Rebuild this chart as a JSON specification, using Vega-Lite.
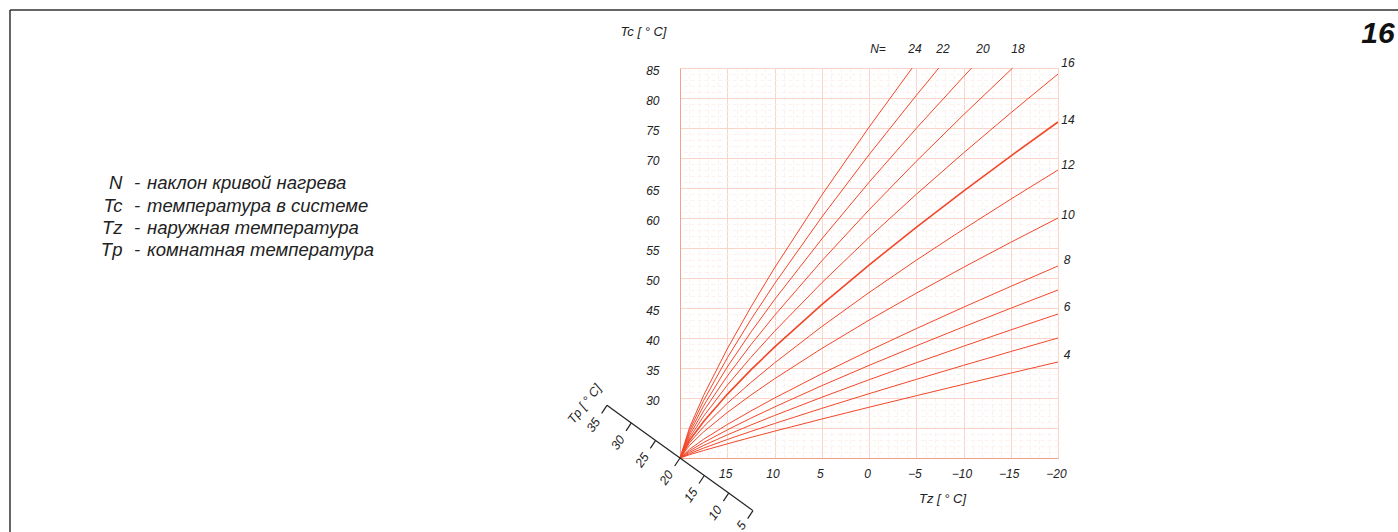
{
  "$schema": "https://vega.github.io/schema/vega-lite/v6.json",
  "width": 378,
  "height": 390,
  "autosize": "none",
  "padding": {"left": 680, "top": 68, "right": 340, "bottom": 74},
  "background": "white",
  "config": {"view": {"stroke": null}, "font": "Liberation Sans"},
  "datasets": {
    "curves": [
      {"n":24,"tz":20,"tc":20},{"n":24,"tz":19,"tc":25.02},{"n":24,"tz":17.5,"tc":30.44},{"n":24,"tz":15,"tc":38.19},{"n":24,"tz":12.5,"tc":45.16},{"n":24,"tz":10,"tc":51.67},{"n":24,"tz":5,"tc":63.8},{"n":24,"tz":0,"tc":75.13},{"n":24,"tz":-4.57,"tc":85},
      {"n":22,"tz":20,"tc":20},{"n":22,"tz":19,"tc":24.6},{"n":22,"tz":17.5,"tc":29.57},{"n":22,"tz":15,"tc":36.68},{"n":22,"tz":12.5,"tc":43.06},{"n":22,"tz":10,"tc":49.03},{"n":22,"tz":5,"tc":60.15},{"n":22,"tz":0,"tc":70.54},{"n":22,"tz":-5,"tc":80.42},{"n":22,"tz":-7.39,"tc":85},
      {"n":20,"tz":20,"tc":20},{"n":20,"tz":19,"tc":24.18},{"n":20,"tz":17.5,"tc":28.7},{"n":20,"tz":15,"tc":35.16},{"n":20,"tz":12.5,"tc":40.97},{"n":20,"tz":10,"tc":46.39},{"n":20,"tz":5,"tc":56.5},{"n":20,"tz":0,"tc":65.94},{"n":20,"tz":-5,"tc":74.93},{"n":20,"tz":-10,"tc":83.55},{"n":20,"tz":-10.86,"tc":85},
      {"n":18,"tz":20,"tc":20},{"n":18,"tz":19,"tc":23.77},{"n":18,"tz":17.5,"tc":27.83},{"n":18,"tz":15,"tc":33.64},{"n":18,"tz":12.5,"tc":38.87},{"n":18,"tz":10,"tc":43.75},{"n":18,"tz":5,"tc":52.85},{"n":18,"tz":0,"tc":61.35},{"n":18,"tz":-5,"tc":69.44},{"n":18,"tz":-10,"tc":77.2},{"n":18,"tz":-15.2,"tc":85},
      {"n":16,"tz":20,"tc":20},{"n":16,"tz":19,"tc":23.35},{"n":16,"tz":17.5,"tc":26.96},{"n":16,"tz":15,"tc":32.13},{"n":16,"tz":12.5,"tc":36.77},{"n":16,"tz":10,"tc":41.11},{"n":16,"tz":5,"tc":49.2},{"n":16,"tz":0,"tc":56.76},{"n":16,"tz":-5,"tc":63.94},{"n":16,"tz":-10,"tc":70.84},{"n":16,"tz":-15,"tc":77.52},{"n":16,"tz":-20,"tc":84},
      {"n":14,"tz":20,"tc":20},{"n":14,"tz":19,"tc":22.93},{"n":14,"tz":17.5,"tc":26.09},{"n":14,"tz":15,"tc":30.61},{"n":14,"tz":12.5,"tc":34.68},{"n":14,"tz":10,"tc":38.47},{"n":14,"tz":5,"tc":45.55},{"n":14,"tz":0,"tc":52.16},{"n":14,"tz":-5,"tc":58.45},{"n":14,"tz":-10,"tc":64.49},{"n":14,"tz":-15,"tc":70.33},{"n":14,"tz":-20,"tc":76},
      {"n":12,"tz":20,"tc":20},{"n":12,"tz":19,"tc":22.51},{"n":12,"tz":17.5,"tc":25.22},{"n":12,"tz":15,"tc":29.1},{"n":12,"tz":12.5,"tc":32.58},{"n":12,"tz":10,"tc":35.84},{"n":12,"tz":5,"tc":41.9},{"n":12,"tz":0,"tc":47.57},{"n":12,"tz":-5,"tc":52.96},{"n":12,"tz":-10,"tc":58.13},{"n":12,"tz":-15,"tc":63.14},{"n":12,"tz":-20,"tc":68},
      {"n":10,"tz":20,"tc":20},{"n":10,"tz":19,"tc":22.09},{"n":10,"tz":17.5,"tc":24.35},{"n":10,"tz":15,"tc":27.58},{"n":10,"tz":12.5,"tc":30.48},{"n":10,"tz":10,"tc":33.2},{"n":10,"tz":5,"tc":38.25},{"n":10,"tz":0,"tc":42.97},{"n":10,"tz":-5,"tc":47.46},{"n":10,"tz":-10,"tc":51.78},{"n":10,"tz":-15,"tc":55.95},{"n":10,"tz":-20,"tc":60},
      {"n":8,"tz":20,"tc":20},{"n":8,"tz":19,"tc":21.44},{"n":8,"tz":17.5,"tc":23.12},{"n":8,"tz":15,"tc":25.58},{"n":8,"tz":12.5,"tc":27.84},{"n":8,"tz":10,"tc":29.99},{"n":8,"tz":5,"tc":34.04},{"n":8,"tz":0,"tc":37.88},{"n":8,"tz":-5,"tc":41.56},{"n":8,"tz":-10,"tc":45.13},{"n":8,"tz":-15,"tc":48.6},{"n":8,"tz":-20,"tc":52},
      {"n":7,"tz":20,"tc":20},{"n":7,"tz":19,"tc":21.17},{"n":7,"tz":17.5,"tc":22.58},{"n":7,"tz":15,"tc":24.68},{"n":7,"tz":12.5,"tc":26.64},{"n":7,"tz":10,"tc":28.5},{"n":7,"tz":5,"tc":32.05},{"n":7,"tz":0,"tc":35.43},{"n":7,"tz":-5,"tc":38.69},{"n":7,"tz":-10,"tc":41.86},{"n":7,"tz":-15,"tc":44.96},{"n":7,"tz":-20,"tc":48},
      {"n":6,"tz":20,"tc":20},{"n":6,"tz":19,"tc":20.93},{"n":6,"tz":17.5,"tc":22.09},{"n":6,"tz":15,"tc":23.85},{"n":6,"tz":12.5,"tc":25.5},{"n":6,"tz":10,"tc":27.08},{"n":6,"tz":5,"tc":30.12},{"n":6,"tz":0,"tc":33.04},{"n":6,"tz":-5,"tc":35.87},{"n":6,"tz":-10,"tc":38.63},{"n":6,"tz":-15,"tc":41.34},{"n":6,"tz":-20,"tc":44},
      {"n":5,"tz":20,"tc":20},{"n":5,"tz":19,"tc":20.72},{"n":5,"tz":17.5,"tc":21.65},{"n":5,"tz":15,"tc":23.08},{"n":5,"tz":12.5,"tc":24.43},{"n":5,"tz":10,"tc":25.74},{"n":5,"tz":5,"tc":28.27},{"n":5,"tz":0,"tc":30.72},{"n":5,"tz":-5,"tc":33.1},{"n":5,"tz":-10,"tc":35.44},{"n":5,"tz":-15,"tc":37.74},{"n":5,"tz":-20,"tc":40},
      {"n":4,"tz":20,"tc":20},{"n":4,"tz":19,"tc":20.54},{"n":4,"tz":17.5,"tc":21.25},{"n":4,"tz":15,"tc":22.36},{"n":4,"tz":12.5,"tc":23.43},{"n":4,"tz":10,"tc":24.47},{"n":4,"tz":5,"tc":26.49},{"n":4,"tz":0,"tc":28.46},{"n":4,"tz":-5,"tc":30.38},{"n":4,"tz":-10,"tc":32.28},{"n":4,"tz":-15,"tc":34.15},{"n":4,"tz":-20,"tc":36}
    ],
    "nlabels": [
      {"t":"N=","tz":-0.95,"tc":88.17},{"t":"24","tz":-4.87,"tc":88.17},{"t":"22","tz":-7.83,"tc":88.17},{"t":"20","tz":-12.06,"tc":88.17},{"t":"18","tz":-15.77,"tc":88.17},
      {"t":"16","tz":-21.06,"tc":85.83},{"t":"14","tz":-21.06,"tc":76.33},{"t":"12","tz":-21.06,"tc":68.83},{"t":"10","tz":-21.06,"tc":60.5},{"t":"8","tz":-20.95,"tc":53.0},{"t":"6","tz":-20.95,"tc":45.17},{"t":"4","tz":-20.95,"tc":37.17}
    ],
    "legend": [
      {"s":"N","d":"наклон кривой нагрева","tc":65.78},
      {"s":"Tc","d":"температура в системе","tc":62.05},
      {"s":"Tz","d":"наружная температура","tc":58.28},
      {"s":"Tp","d":"комнатная температура","tc":54.67}
    ],
    "tp": [
      {"tp":35,"tz":27.73,"tc":28.78,"tz2":28.29,"tc2":27.45,"lz":29.15,"lc":25.48},
      {"tp":30,"tz":25.15,"tc":25.85,"tz2":25.71,"tc2":24.52,"lz":26.57,"lc":22.55},
      {"tp":25,"tz":22.58,"tc":22.93,"tz2":23.14,"tc2":21.6,"lz":24.0,"lc":19.63},
      {"tp":20,"tz":20,"tc":20,"tz2":20.56,"tc2":18.67,"lz":21.42,"lc":16.7},
      {"tp":15,"tz":17.43,"tc":17.08,"tz2":17.99,"tc2":15.75,"lz":18.85,"lc":13.78},
      {"tp":10,"tz":14.85,"tc":14.15,"tz2":15.41,"tc2":12.82,"lz":16.27,"lc":10.85},
      {"tp":5,"tz":12.28,"tc":11.23,"tz2":12.84,"tc2":9.9,"lz":13.5,"lc":8.75}
    ]
  },
  "layer": [
    {
      "data": {"name": "curves"},
      "mark": {"type": "line", "color": "#f2472a", "strokeCap": "butt"},
      "encoding": {
        "x": {
          "field": "tz", "type": "quantitative",
          "scale": {"domain": [-20, 20], "reverse": true, "nice": false, "zero": false},
          "axis": {
            "orient": "bottom",
            "values": [20,19,18,17,16,15,14,13,12,11,10,9,8,7,6,5,4,3,2,1,0,-1,-2,-3,-4,-5,-6,-7,-8,-9,-10,-11,-12,-13,-14,-15,-16,-17,-18,-19,-20],
            "tickCount": 200,
            "format": "d",
            "grid": true,
            "gridColor": {"condition": {"test": "datum.value % 5 === 0", "value": "#fad3c9"}, "value": "#fdf1ed"},
            "gridDash": {"condition": {"test": "datum.value % 5 === 0", "value": []}, "value": [4, 3]},
            "gridWidth": 1,
            "domainColor": "#f3a08d",
            "ticks": false,
            "labelExpr": "datum.value < 20 && datum.value % 5 === 0 ? datum.label : ''",
            "labelOverlap": false,
            "labelFlush": false,
            "labelFontStyle": "italic",
            "labelFontSize": 12,
            "labelColor": "#222",
            "labelPadding": 10,
            "labelOffset": -2,
            "title": "Tz [ ° C]",
            "titleFontStyle": "italic",
            "titleFontWeight": "normal",
            "titleFontSize": 13,
            "titleColor": "#222",
            "titleX": 262,
            "titleY": 40,
            "titleAlign": "center",
            "titleBaseline": "middle"
          }
        },
        "y": {
          "field": "tc", "type": "quantitative",
          "scale": {"domain": [20, 85], "nice": false, "zero": false},
          "axis": {
            "values": [20,21,22,23,24,25,26,27,28,29,30,31,32,33,34,35,36,37,38,39,40,41,42,43,44,45,46,47,48,49,50,51,52,53,54,55,56,57,58,59,60,61,62,63,64,65,66,67,68,69,70,71,72,73,74,75,76,77,78,79,80,81,82,83,84,85],
            "tickCount": 200,
            "format": "d",
            "grid": true,
            "gridColor": {"condition": {"test": "datum.value % 5 === 0", "value": "#fad3c9"}, "value": "#fdf1ed"},
            "gridDash": {"condition": {"test": "datum.value % 5 === 0", "value": []}, "value": [4, 3]},
            "domainColor": "#f3a08d",
            "ticks": false,
            "labelExpr": "datum.value >= 30 && datum.value % 5 === 0 ? datum.label : ''",
            "labelOverlap": false,
            "labelFlush": false,
            "labelFontStyle": "italic",
            "labelFontSize": 12,
            "labelColor": "#222",
            "labelPadding": 21,
            "labelOffset": 2,
            "title": "Tc [ ° C]",
            "titleAngle": 0,
            "titleFontStyle": "italic",
            "titleFontWeight": "normal",
            "titleFontSize": 13,
            "titleColor": "#222",
            "titleX": -37,
            "titleY": -37,
            "titleAlign": "center",
            "titleBaseline": "middle"
          }
        },
        "detail": {"field": "n", "type": "nominal"},
        "strokeWidth": {"condition": {"test": "datum.n === 14", "value": 1.6}, "value": 1}
      }
    },
    {
      "data": {"name": "nlabels"},
      "mark": {"type": "text", "fontStyle": "italic", "fontSize": 12, "color": "#222", "align": "center", "baseline": "middle"},
      "encoding": {
        "x": {"field": "tz", "type": "quantitative"},
        "y": {"field": "tc", "type": "quantitative"},
        "text": {"field": "t"}
      }
    },
    {
      "data": {"name": "legend"},
      "mark": {"type": "text", "fontStyle": "italic", "fontSize": 18.5, "color": "#222", "align": "right", "baseline": "middle"},
      "encoding": {
        "x": {"datum": 79.0, "type": "quantitative"},
        "y": {"field": "tc", "type": "quantitative"},
        "text": {"field": "s"}
      }
    },
    {
      "data": {"name": "legend"},
      "mark": {"type": "text", "fontStyle": "italic", "fontSize": 18.5, "color": "#222", "align": "center", "baseline": "middle", "text": "-"},
      "encoding": {
        "x": {"datum": 77.45, "type": "quantitative"},
        "y": {"field": "tc", "type": "quantitative"}
      }
    },
    {
      "data": {"name": "legend"},
      "mark": {"type": "text", "fontStyle": "italic", "fontSize": 18.5, "color": "#222", "align": "left", "baseline": "middle"},
      "encoding": {
        "x": {"datum": 76.4, "type": "quantitative"},
        "y": {"field": "tc", "type": "quantitative"},
        "text": {"field": "d"}
      }
    },
    {
      "data": {"name": "tp"},
      "mark": {"type": "line", "color": "#222", "strokeWidth": 1.2},
      "encoding": {
        "x": {"field": "tz", "type": "quantitative"},
        "y": {"field": "tc", "type": "quantitative"}
      }
    },
    {
      "data": {"name": "tp"},
      "mark": {"type": "rule", "color": "#222", "strokeWidth": 1.2},
      "encoding": {
        "x": {"field": "tz", "type": "quantitative"},
        "y": {"field": "tc", "type": "quantitative"},
        "x2": {"field": "tz2"},
        "y2": {"field": "tc2"}
      }
    },
    {
      "data": {"name": "tp"},
      "mark": {"type": "text", "fontStyle": "italic", "fontSize": 12.5, "color": "#222", "align": "center", "baseline": "middle", "angle": -55},
      "encoding": {
        "x": {"field": "lz", "type": "quantitative"},
        "y": {"field": "lc", "type": "quantitative"},
        "text": {"field": "tp"}
      }
    },
    {
      "data": {"values": [{}]},
      "mark": {"type": "text", "fontStyle": "italic", "fontSize": 12.5, "color": "#222", "align": "center", "baseline": "middle", "angle": -52, "text": "Tp [ ° C]"},
      "encoding": {
        "x": {"datum": 30.1, "type": "quantitative"},
        "y": {"datum": 29.0, "type": "quantitative"}
      }
    },
    {
      "data": {"values": [{}]},
      "mark": {"type": "text", "fontStyle": "italic", "fontWeight": "bold", "fontSize": 30, "color": "#111", "align": "center", "baseline": "middle", "text": "16"},
      "encoding": {
        "x": {"datum": -53.86, "type": "quantitative"},
        "y": {"datum": 90.6, "type": "quantitative"}
      }
    },
    {
      "data": {"values": [{}]},
      "mark": {"type": "rule", "color": "#333", "strokeWidth": 1.5},
      "encoding": {
        "x": {"datum": 90.9, "type": "quantitative"},
        "x2": {"datum": -60},
        "y": {"datum": 94.67, "type": "quantitative"}
      }
    },
    {
      "data": {"values": [{}]},
      "mark": {"type": "rule", "color": "#333", "strokeWidth": 1.5},
      "encoding": {
        "x": {"datum": 90.9, "type": "quantitative"},
        "y": {"datum": 94.67, "type": "quantitative"},
        "y2": {"datum": 0}
      }
    }
  ]
}
